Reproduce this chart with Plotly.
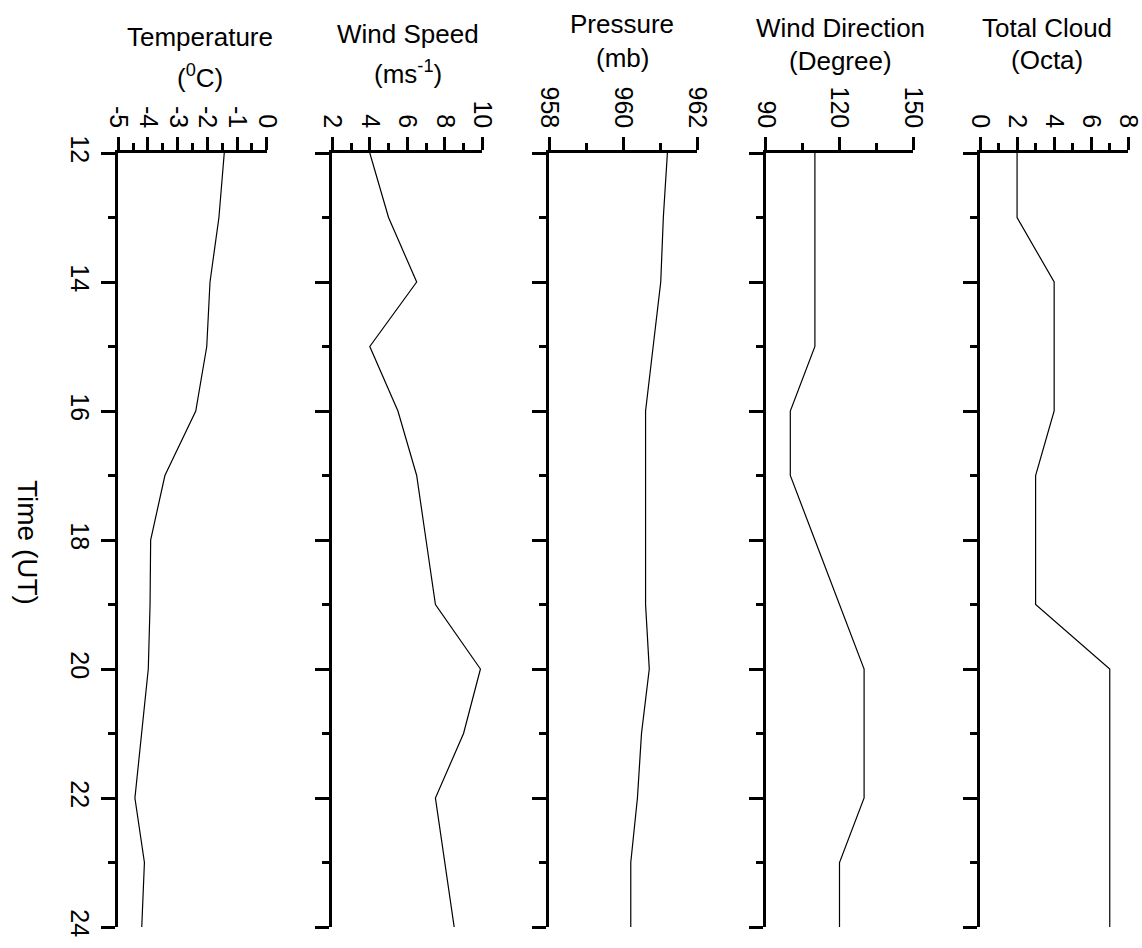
import plotly.graph_objects as go

# ---- data ----
hours = [12, 13, 14, 15, 16, 17, 18, 19, 20, 21, 22, 23, 24]
temperature = [-1.43, -1.61, -1.91, -2.02, -2.39, -3.43, -3.91, -3.93, -3.99, -4.21, -4.44, -4.12, -4.21]
wind_speed = [4.0, 5.0, 6.5, 4.0, 5.5, 6.5, 7.0, 7.5, 9.9, 9.0, 7.5, 8.0, 8.5]
pressure = [961.2, 961.09, 961.02, 960.81, 960.61, 960.61, 960.61, 960.61, 960.71, 960.5, 960.39, 960.21, 960.21]
wind_direction = [110, 110, 110, 110, 100, 100, 110, 120, 130, 130, 130, 120, 120]
total_cloud = [2, 2, 4, 4, 4, 3, 3, 3, 7, 7, 7, 7, 7]

titles_line1 = ["Temperature", "Wind Speed", "Pressure", "Wind Direction", "Total Cloud"]
titles_line2 = ["(<sup>0</sup>C)", "(ms<sup>-1</sup>)", "(mb)", "(Degree)", "(Octa)"]
series = [temperature, wind_speed, pressure, wind_direction, total_cloud]
x_ranges = [[-5, 0], [2, 10], [958, 962], [90, 150], [0, 8]]
x_tickvals = [[-5, -4, -3, -2, -1, 0], [2, 4, 6, 8, 10], [958, 960, 962], [90, 120, 150], [0, 2, 4, 6, 8]]
x_ticktext = [["-5", "-4", "-3", "-2", "-1", "0"], ["2", "4", "6", "8", "10"],
              ["958", "960", "962"], ["90", "120", "150"], ["0", "2", "4", "6", "8"]]
x_minor = [0.5, 1, 1, 15, 1]
time_ticks = [12, 14, 16, 18, 20, 22, 24]
time_label = "Time (UT)"

# ---- layout geometry (pixels) ----
W, H = 1142, 948
panel_px = [(118.3, 266.7), (332.3, 482.3), (549, 697), (765.7, 913.3), (980, 1128.3)]
y_top_px, y_bot_px = 153, 927
title1_y = [37.5, 34, 24, 27.5, 27.5]
title2_y = [76.5, 72.5, 58.5, 61, 60]
title_x = [200, 408, 622, 840, 1047]

def fx(p):
    return p / W

def fy(p):
    return 1 - p / H

FONT = "Liberation Sans, Arial, sans-serif"
fig = go.Figure()
layout = dict(
    width=W, height=H,
    margin=dict(l=0, r=0, t=0, b=0, autoexpand=False),
    paper_bgcolor="white", plot_bgcolor="white",
    showlegend=False,
    font=dict(family=FONT, size=25, color="black"),
    annotations=[],
)

for i, (vals, xr) in enumerate(zip(series, x_ranges)):
    n = "" if i == 0 else str(i + 1)
    fig.add_trace(go.Scatter(
        x=vals, y=hours, mode="lines",
        line=dict(color="black", width=1.2),
        xaxis="x" + n, yaxis="y" + n,
        hoverinfo="skip",
    ))
    layout["xaxis" + n] = dict(
        domain=[fx(panel_px[i][0]), fx(panel_px[i][1])],
        range=xr, side="top", anchor="y" + n, automargin=False,
        showline=True, linecolor="black", linewidth=3,
        showgrid=False, zeroline=False,
        ticks="outside", ticklen=13, tickwidth=3, tickcolor="black",
        tickmode="array", tickvals=x_tickvals[i], ticktext=x_ticktext[i],
        tickangle=90, ticklabeloverflow="allow",
        tickfont=dict(family=FONT, size=25, color="black"),
        minor=dict(ticks="outside", ticklen=7, tickwidth=3, tickcolor="black",
                   tickmode="linear", tick0=xr[0], dtick=x_minor[i], showgrid=False),
        fixedrange=True,
    )
    layout["yaxis" + n] = dict(
        domain=[fy(y_bot_px), fy(y_top_px)],
        range=[24, 12], anchor="x" + n, side="left", automargin=False,
        showline=True, linecolor="black", linewidth=3,
        showgrid=False, zeroline=False,
        ticks="outside", ticklen=14, tickwidth=3, tickcolor="black",
        tickmode="array", tickvals=time_ticks, ticktext=[str(t) for t in time_ticks],
        tickangle=90, showticklabels=(i == 0), ticklabeloverflow="allow",
        tickfont=dict(family=FONT, size=25, color="black"),
        minor=dict(ticks="outside", ticklen=7, tickwidth=3, tickcolor="black",
                   tickmode="linear", tick0=12, dtick=1, showgrid=False),
        fixedrange=True,
    )
    layout["annotations"].append(dict(
        text=titles_line1[i], x=fx(title_x[i]), y=fy(title1_y[i]),
        xref="paper", yref="paper", xanchor="center", yanchor="middle",
        showarrow=False, font=dict(family=FONT, size=26, color="black"),
    ))
    layout["annotations"].append(dict(
        text=titles_line2[i], x=fx(title_x[i]), y=fy(title2_y[i]),
        xref="paper", yref="paper", xanchor="center", yanchor="middle",
        showarrow=False, font=dict(family=FONT, size=26, color="black"),
    ))

layout["annotations"].append(dict(
    text=time_label, x=fx(28), y=fy(542), xref="paper", yref="paper",
    xanchor="center", yanchor="middle", textangle=90, showarrow=False,
    font=dict(family=FONT, size=28, color="black"),
))

fig.update_layout(**layout)
fig.write_html("out.html")
